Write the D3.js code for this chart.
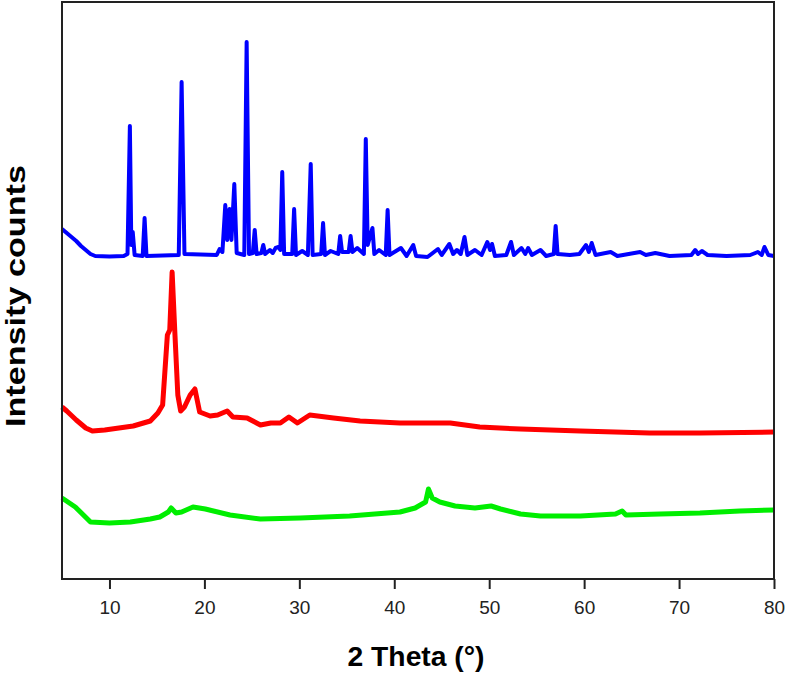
<!DOCTYPE html>
<html>
<head>
<meta charset="utf-8">
<script src="https://cdn.jsdelivr.net/npm/d3@7"></script>
<style>
  body { margin: 0; background: #fff; }
  svg text { font-family: "Liberation Sans", Arial, sans-serif; }
</style>
</head>
<body>
<div id="chart"></div>
<script>
// 2 theta ticks
var thetaTicks = [10, 20, 30, 40, 50, 60, 70, 80];

// top pattern (blue)
var blueTheta  = [5.0, 5.5, 6.0, 6.5, 7.0, 7.5, 8.0, 8.5, 10.0, 11.5, 11.9, 12.15, 12.3, 12.45, 12.65, 13.5, 13.7, 13.9,
  17.3, 17.6, 17.9, 21.3, 21.6, 21.9, 22.2, 22.4, 22.65, 22.85, 23.15, 23.4, 24.2, 24.45, 24.7, 25.1, 25.3, 25.5,
  26.0, 26.2, 26.4, 26.9, 27.2, 27.5, 27.8, 28.0, 28.2, 28.4, 29.25, 29.45, 29.65, 30.3, 30.9, 31.2, 31.4,
  32.3, 32.5, 32.7, 33.3, 34.1, 34.3, 34.5, 35.2, 35.4, 35.6, 36.1, 36.8, 37.0, 37.2, 37.7, 37.9, 38.4,
  39.1, 39.3, 39.5, 40.7, 41.3, 42.0, 42.3, 43.5, 44.6, 45.0, 45.8, 46.2, 46.6, 47.0, 47.4, 47.7, 48.5,
  49.2, 49.8, 50.1, 50.3, 50.6, 51.8, 52.3, 52.6, 53.4, 53.8, 54.1, 54.5, 55.4, 56.0, 56.8, 57.0, 57.2,
  58.5, 59.5, 60.2, 60.5, 60.8, 61.2, 62.8, 63.5, 65.9, 66.5, 67.5, 69.0, 71.3, 71.7, 72.0, 72.4, 73.0,
  75.0, 77.5, 78.3, 78.7, 79.0, 79.4, 80.0];
var blueCounts = [3500, 3460, 3420, 3380, 3330, 3290, 3250, 3230, 3225, 3230, 3250, 4530, 3340, 3470, 3240, 3230, 3610, 3230,
  3240, 4970, 3250, 3240, 3300, 3270, 3740, 3390, 3700, 3390, 3950, 3260, 3240, 5370, 3250, 3260, 3490, 3250,
  3260, 3340, 3250, 3290, 3260, 3310, 3320, 3290, 4070, 3250, 3250, 3700, 3240, 3280, 3240, 4150, 3240,
  3250, 3560, 3240, 3280, 3250, 3430, 3270, 3270, 3430, 3270, 3310, 3250, 4400, 3340, 3510, 3250, 3290,
  3240, 3690, 3240, 3310, 3230, 3340, 3230, 3220, 3300, 3240, 3350, 3250, 3290, 3250, 3420, 3240, 3290,
  3240, 3370, 3290, 3350, 3230, 3240, 3370, 3240, 3310, 3250, 3310, 3240, 3290, 3230, 3250, 3530, 3250,
  3240, 3250, 3340, 3270, 3360, 3240, 3270, 3230, 3270, 3240, 3260, 3230, 3240, 3290, 3250, 3280, 3240,
  3230, 3240, 3270, 3240, 3320, 3240, 3230];

// middle pattern (red)
var redTheta  = [5.0, 5.5, 6.5, 7.5, 8.2, 9.5, 11.0, 12.5, 14.3, 15.1, 15.6, 16.1, 16.35, 16.6, 16.9, 17.2, 17.5, 17.9,
  18.5, 19.0, 19.5, 20.6, 21.4, 22.4, 23.0, 24.5, 25.9, 27.0, 28.0, 28.9, 29.8, 31.1, 33.6, 36.4, 40.6,
  45.9, 49.0, 53.3, 59.6, 66.9, 72.2, 80.0];
var redCounts = [1720, 1680, 1590, 1510, 1480, 1490, 1510, 1530, 1580, 1660, 1740, 2440, 2490, 3070, 2440, 1840, 1680, 1720,
  1840, 1900, 1670, 1630, 1640, 1680, 1620, 1610, 1540, 1560, 1560, 1620, 1560, 1640, 1610, 1580, 1560,
  1560, 1520, 1500, 1480, 1460, 1460, 1470];

// bottom pattern (green)
var greenTheta  = [5.0, 6.4, 8.0, 10.0, 12.2, 14.3, 15.3, 16.2, 16.5, 17.0, 17.6, 18.8, 20.1, 22.7, 25.9, 30.1, 35.3,
  40.6, 42.2, 43.3, 43.6, 44.0, 44.8, 46.4, 48.5, 50.2, 51.2, 53.3, 55.4, 59.6, 63.3, 64.0, 64.4, 68.0,
  72.2, 76.4, 80.0];
var greenCounts = [810, 720, 570, 560, 570, 600, 620, 670, 710, 660, 670, 720, 700, 640, 600, 610, 630,
  670, 710, 770, 900, 810, 770, 730, 710, 730, 700, 650, 630, 630, 650, 680, 640, 650,
  660, 680, 690];

var width = 786, height = 673;
var margin = {top: 2, right: 12, bottom: 94, left: 62};

var svg = d3.select('#chart').append('svg')
  .attr('width', width).attr('height', height);

var x = d3.scaleLinear().domain([5, 80]).range([margin.left, width - margin.right]);
var y = d3.scaleLinear().domain([0, 5770]).range([height - margin.bottom, margin.top]);

var series = [
  {theta: blueTheta,  counts: blueCounts,  color: '#0000ff', w: 4},
  {theta: redTheta,   counts: redCounts,   color: '#ff0000', w: 5},
  {theta: greenTheta, counts: greenCounts, color: '#00ee00', w: 5}
];

var line = d3.line()
  .x(function(d){ return x(d[0]); })
  .y(function(d){ return y(d[1]); });

svg.selectAll('path.pattern')
  .data(series)
  .enter().append('path')
  .attr('class', 'pattern')
  .attr('fill', 'none')
  .attr('stroke', function(d){ return d.color; })
  .attr('stroke-width', function(d){ return d.w; })
  .attr('stroke-linejoin', 'round')
  .attr('d', function(d){ return line(d3.zip(d.theta, d.counts)); });

// frame
svg.append('rect')
  .attr('x', margin.left).attr('y', margin.top)
  .attr('width', width - margin.left - margin.right)
  .attr('height', height - margin.top - margin.bottom)
  .attr('fill', 'none').attr('stroke', '#222').attr('stroke-width', 2);

var xAxis = svg.append('g')
  .attr('transform', 'translate(0,' + (height - margin.bottom) + ')')
  .call(d3.axisBottom(x).tickValues(thetaTicks).tickSize(10).tickPadding(12));
xAxis.select('.domain').remove();
xAxis.selectAll('.tick line').attr('stroke', '#222').attr('stroke-width', 2);
xAxis.selectAll('.tick text').attr('font-size', 19).attr('fill', '#222');

svg.append('text')
  .attr('x', 416).attr('y', 666)
  .attr('text-anchor', 'middle')
  .attr('font-size', 28).attr('font-weight', 'bold')
  .attr('textLength', 137).attr('lengthAdjust', 'spacingAndGlyphs')
  .text('2 Theta (°)');

svg.append('text')
  .attr('transform', 'translate(25,296) rotate(-90)')
  .attr('text-anchor', 'middle')
  .attr('font-size', 27).attr('font-weight', 'bold')
  .attr('textLength', 262).attr('lengthAdjust', 'spacingAndGlyphs')
  .text('Intensity counts');
</script>
</body>
</html>
